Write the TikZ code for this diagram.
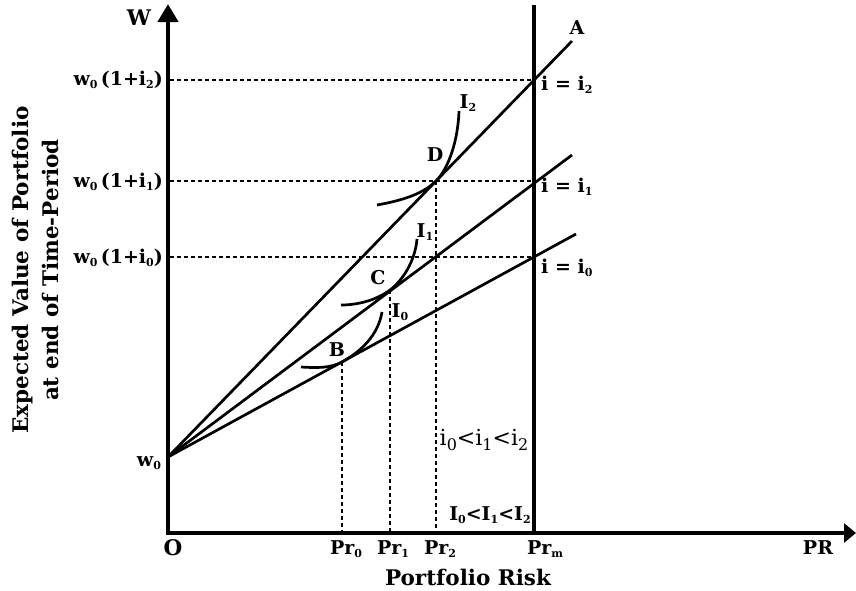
\documentclass[tikz,border=0pt]{standalone}
\usepackage{fontspec}
\setmainfont{DejaVu Serif}
\usetikzlibrary{arrows.meta}
\newcommand\lowsub[1]{\raisebox{-0.35ex}{\fontsize{11}{11}\selectfont #1}}
\newcommand\bigsub[1]{\raisebox{-0.5ex}{\fontsize{16}{16}\selectfont #1}}
\begin{document}
\begin{tikzpicture}[x=1pt,y=-1pt,
  axis/.style={line width=4.6pt, line join=miter},
  ln/.style={line width=2.7pt},
  dsh/.style={line width=1.8pt, dash pattern=on 4pt off 3pt},
  icurve/.style={line width=2.7pt},
  lbl/.style={font=\bfseries\fontsize{19}{21}\selectfont, inner sep=0pt},
  ttl/.style={font=\bfseries\fontsize{21.5}{24}\selectfont, inner sep=0pt},
  reg/.style={font=\fontsize{22}{24}\selectfont, inner sep=0pt}]
\useasboundingbox (0,0) rectangle (856,590);
% key points
\coordinate (O) at (168,533);
\coordinate (Ytop) at (168,4);
\coordinate (Xend) at (856,533);
\coordinate (w0) at (168,457);
\coordinate (Aend) at (572,41);
\coordinate (I1end) at (572,155);
\coordinate (I0end) at (576,234);
\coordinate (PmTop) at (534,5);
\coordinate (PmBot) at (534,533);
\coordinate (D) at (436,181);
\coordinate (C) at (390,290);
\coordinate (B) at (342,362);
\coordinate (h2L) at (170,80);  \coordinate (h2R) at (534,80);
\coordinate (h1L) at (170,181); \coordinate (h1R) at (534,181);
\coordinate (h0L) at (170,257); \coordinate (h0R) at (534,257);
\coordinate (P0) at (342,533); \coordinate (P1) at (390,533); \coordinate (P2) at (436,533);
% axes
\draw[axis, {Triangle[length=18pt,width=20pt]}-{Triangle[length=12pt,width=19pt]}] (Ytop) -- (O) -- (Xend);
\draw[axis] (PmTop) -- (PmBot);
% dashed guides
\draw[dsh] (h2L) -- (h2R);
\draw[dsh] (h1L) -- (h1R);
\draw[dsh] (h0L) -- (h0R);
\draw[dsh] (B) -- (P0);
\draw[dsh] (C) -- (P1);
\draw[dsh] (D) -- (P2);
% budget lines
\draw[ln] (w0) -- (Aend);
\draw[ln] (w0) -- (I1end);
\draw[ln] (w0) -- (I0end);
% indifference curves
\draw[icurve] (377,205) .. controls (405,200) and (424,193) .. (D) .. controls (449,168) and (458,140) .. (459,111);
\draw[icurve] (341,305) .. controls (360,305) and (378,299) .. (C) .. controls (402,281) and (415,262) .. (417,239);
\draw[icurve] (301,367) .. controls (318,368) and (331,368) .. (B) .. controls (360,352) and (378,336) .. (382,312);
% labels
\node[ttl] (lW) at (139,18) {W};
\node[ttl] (lO) at (173,548) {O};
\node[lbl, anchor=east] (lw2) at (163,80) {w\lowsub{0}\,(1+i\lowsub{2})};
\node[lbl, anchor=east] (lw1) at (163,182) {w\lowsub{0}\,(1+i\lowsub{1})};
\node[lbl, anchor=east] (lw0) at (163,258) {w\lowsub{0}\,(1+i\lowsub{0})};
\node[lbl] (lw) at (149,463) {w\lowsub{0}};
\node[lbl] (lP0) at (346,549) {Pr\lowsub{0}};
\node[lbl] (lP1) at (393,549) {Pr\lowsub{1}};
\node[lbl] (lP2) at (440,549) {Pr\lowsub{2}};
\node[lbl] (lPm) at (545,549) {Pr\lowsub{m}};
\node[lbl] (lPR) at (818,548) {PR};
\node[ttl] (lRisk) at (468,577) {Portfolio Risk};
\node[lbl] (lA) at (577,28) {A};
\node[lbl, anchor=west] (li2) at (541,85) {i = i\lowsub{2}};
\node[lbl, anchor=west] (li1) at (541,187) {i = i\lowsub{1}};
\node[lbl, anchor=west] (li0) at (541,268) {i = i\lowsub{0}};
\node[lbl] (lD) at (435,155) {D};
\node[lbl] (lC) at (378,278) {C};
\node[lbl] (lB) at (337,350) {B};
\node[lbl] (lI2) at (468,103) {I\lowsub{2}};
\node[lbl] (lI1) at (425,232) {I\lowsub{1}};
\node[lbl] (lI0) at (400,312) {I\lowsub{0}};
\node[reg] (lineq) at (484,440) {i\bigsub{0}<i\bigsub{1}<i\bigsub{2}};
\node[lbl] (lIneq) at (490,515) {I\lowsub{0}<I\lowsub{1}<I\lowsub{2}};
\node[ttl, rotate=90] (ly1) at (23,270) {Expected Value of Portfolio};
\node[ttl, rotate=90] (ly2) at (50,270) {at end of Time-Period};
\end{tikzpicture}
\end{document}
